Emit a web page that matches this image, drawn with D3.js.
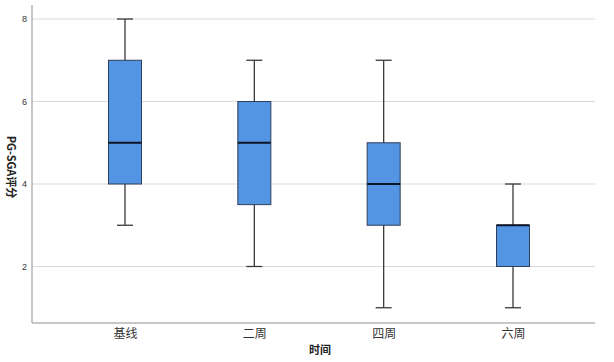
<!DOCTYPE html>
<html><head><meta charset="utf-8">
<script src="https://cdn.jsdelivr.net/npm/d3@7"></script>
<style>body{margin:0;background:#fff}svg{display:block}</style>
</head><body>
<script>
const categories = ["基线","二周","四周","六周"];
const mins    = [3, 2, 1, 1];
const q1s     = [4, 3.5, 3, 2];
const medians = [5, 5, 4, 3];
const q3s     = [7, 6, 5, 3];
const maxs    = [8, 7, 7, 4];
const yTicks  = [2, 4, 6, 8];

(function(){
const W = 614, H = 362;
const svg = d3.select("body").append("svg").attr("width", W).attr("height", H);
const pLeft = 32, pRight = 595, pTop = 5, pBottom = 323;

const y = d3.scaleLinear().domain([0.63, 8.34]).range([pBottom, pTop]);
const x = d3.scalePoint().domain(categories).range([125, 513]);

// gridlines
svg.append("g").selectAll("line").data(yTicks).join("line")
  .attr("x1", pLeft).attr("x2", pRight)
  .attr("y1", d => y(d)).attr("y2", d => y(d))
  .attr("stroke", "#d9d9d9").attr("stroke-width", 1.2);

// axes lines
svg.append("line").attr("x1", pLeft).attr("x2", pLeft).attr("y1", pTop).attr("y2", pBottom)
  .attr("stroke", "#b5b5b5").attr("stroke-width", 1.5);
svg.append("line").attr("x1", pLeft).attr("x2", pRight).attr("y1", pBottom).attr("y2", pBottom)
  .attr("stroke", "#b5b5b5").attr("stroke-width", 1.5);

// y tick labels
const yAxis = d3.axisLeft(y).tickValues(yTicks).tickSize(0).tickPadding(5).tickFormat(d3.format("d"));
const ga = svg.append("g").attr("transform", `translate(${pLeft},0)`).call(yAxis);
ga.select(".domain").remove();
ga.selectAll("text").attr("font-family","Arial, 'Liberation Sans', sans-serif").attr("font-size", 9).attr("fill","#333");

// x tick labels
const xAxis = d3.axisBottom(x).tickSize(0).tickPadding(6);
const gx = svg.append("g").attr("transform", `translate(0,${pBottom})`).call(xAxis);
gx.select(".domain").remove();
gx.selectAll("text").attr("font-family","'Noto Sans CJK SC', sans-serif").attr("font-size", 12).attr("fill","#333");

// boxes
const data = categories.map((c,i)=>({c, min:mins[i], q1:q1s[i], med:medians[i], q3:q3s[i], max:maxs[i]}));
const bw = 33, cw = 16;
const g = svg.append("g").selectAll("g").data(data).join("g");
g.append("line").attr("x1", d=>x(d.c)).attr("x2", d=>x(d.c))
  .attr("y1", d=>y(d.max)).attr("y2", d=>y(d.min))
  .attr("stroke", "#3a3a3a").attr("stroke-width", 1.3);
g.append("line").attr("x1", d=>x(d.c)-cw/2).attr("x2", d=>x(d.c)+cw/2)
  .attr("y1", d=>y(d.max)).attr("y2", d=>y(d.max)).attr("stroke","#3a3a3a").attr("stroke-width",1.3);
g.append("line").attr("x1", d=>x(d.c)-cw/2).attr("x2", d=>x(d.c)+cw/2)
  .attr("y1", d=>y(d.min)).attr("y2", d=>y(d.min)).attr("stroke","#3a3a3a").attr("stroke-width",1.3);
g.append("rect").attr("x", d=>x(d.c)-bw/2).attr("width", bw)
  .attr("y", d=>y(d.q3)).attr("height", d=>y(d.q1)-y(d.q3))
  .attr("fill", "#5394e3").attr("stroke", "#2e3f5c").attr("stroke-width", 1);
g.append("line").attr("x1", d=>x(d.c)-bw/2).attr("x2", d=>x(d.c)+bw/2)
  .attr("y1", d=>y(d.med)).attr("y2", d=>y(d.med))
  .attr("stroke", "#0b1526").attr("stroke-width", 2);

// axis titles
svg.append("text").attr("x", 320).attr("y", 354).attr("text-anchor","middle")
  .attr("font-family","'Noto Sans CJK SC', sans-serif").attr("font-weight","bold").attr("font-size", 11).attr("fill","#222")
  .text("时间");
svg.append("text").attr("transform","translate(7,167) rotate(90)").attr("text-anchor","middle")
  .attr("font-family","'Noto Sans CJK SC', sans-serif").attr("font-weight","bold").attr("font-size", 11).attr("fill","#222")
  .text("PG-SGA评分");
})();
</script>
</body></html>
